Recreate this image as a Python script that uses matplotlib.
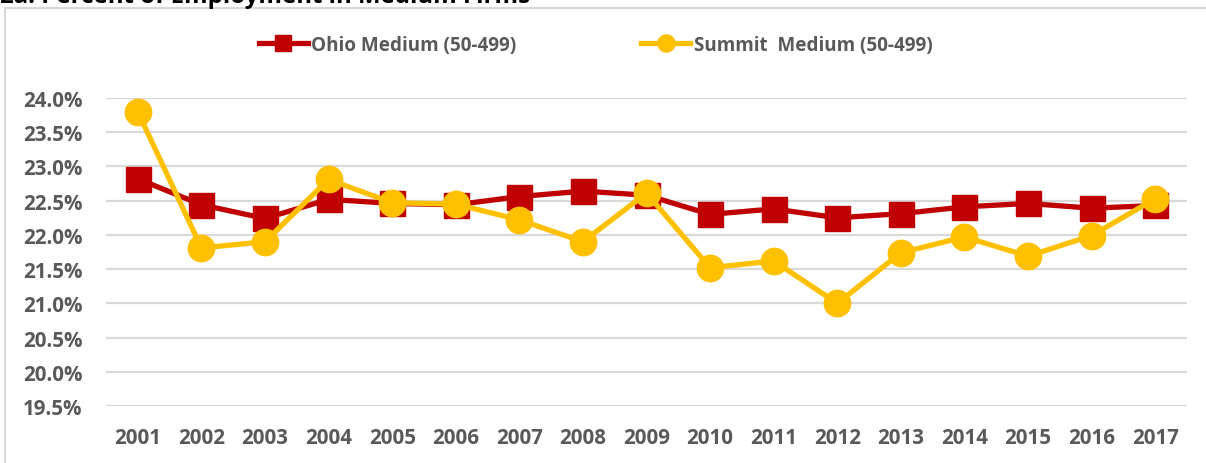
#!/usr/bin/env python3
"""
Percent of employment in medium firms (50-499): Ohio vs Summit
"""

import matplotlib
matplotlib.use('Agg')
import matplotlib.pyplot as plt
from matplotlib.patches import Rectangle
from matplotlib.ticker import FuncFormatter

plt.rcParams['font.family'] = ['Open Sans', 'DejaVu Sans']

# data
years = ['2001', '2002', '2003', '2004', '2005', '2006', '2007', '2008', '2009',
         '2010', '2011', '2012', '2013', '2014', '2015', '2016', '2017']
ohio = [22.82, 22.44, 22.24, 22.52, 22.46, 22.44, 22.56, 22.64, 22.58,
        22.30, 22.38, 22.25, 22.31, 22.41, 22.46, 22.39, 22.43]
summit = [23.80, 21.81, 21.90, 22.81, 22.47, 22.45, 22.22, 21.90, 22.61,
          21.52, 21.62, 21.00, 21.74, 21.97, 21.69, 21.99, 22.53]
y_ticks = [19.5, 20.0, 20.5, 21.0, 21.5, 22.0, 22.5, 23.0, 23.5, 24.0]

title = '2a. Percent of Employment in Medium Firms'
ohio_label = 'Ohio Medium (50-499)'
summit_label = 'Summit  Medium (50-499)'

RED = '#C00000'
GOLD = '#FFC000'
GREY_TXT = '#595959'
GRID = '#D9D9D9'

fig = plt.figure(figsize=(12.06, 4.64), dpi=100)
ax = fig.add_axes([0.0879, 0.1228, 0.8964, 0.6638])

# chart frame (cut by the image edges on the right and bottom)
fig.patches.append(Rectangle((5 / 1206, -0.2), 1.2, 1 - 9 / 464 + 0.2,
                             transform=fig.transFigure, fill=False,
                             edgecolor='#D9D9D9', linewidth=1.5))
fig.text(0.0, 1 - 3 / 464, title, fontsize=17.3, fontweight='bold',
         color='black', va='baseline', ha='left')

x = list(range(len(years)))
ax.plot(x, ohio, color=RED, linewidth=3.8, marker='s', markersize=18,
        label=ohio_label, clip_on=False, zorder=3)
ax.plot(x, summit, color=GOLD, linewidth=3.8, marker='o', markersize=19,
        label=summit_label, clip_on=False, zorder=4)

ax.set_xlim(-0.5, len(years) - 0.5)
ax.set_ylim(19.5, 24.0)
ax.set_yticks(y_ticks)
ax.yaxis.set_major_formatter(FuncFormatter(lambda v, p: f'{v:.1f}%'))
ax.set_xticks(x)
ax.set_xticklabels(years)

ax.grid(axis='y', color=GRID, linewidth=1.6)
ax.set_axisbelow(True)
for s in ax.spines.values():
    s.set_visible(False)
ax.tick_params(length=0, labelsize=14.8, labelcolor=GREY_TXT)
ax.tick_params(axis='y', pad=17)
ax.tick_params(axis='x', pad=15)
for lbl in ax.get_xticklabels() + ax.get_yticklabels():
    lbl.set_fontweight('bold')

leg = fig.legend(loc='center', bbox_to_anchor=(0.494, 1 - 46 / 464), ncol=2,
                 frameon=False, fontsize=13.6, handlelength=2.6,
                 handletextpad=0.2, columnspacing=6.6, markerscale=0.65)
for t in leg.get_texts():
    t.set_color(GREY_TXT)
    t.set_fontweight('bold')

fig.savefig('out.png', dpi=100)
